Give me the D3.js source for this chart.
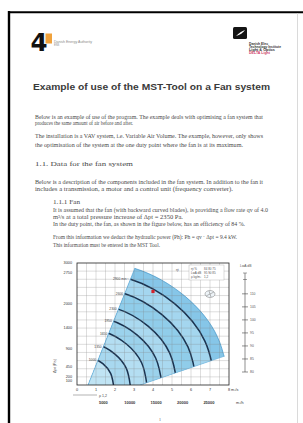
<!DOCTYPE html>
<html><head><meta charset="utf-8">
<script src="https://cdn.jsdelivr.net/npm/d3@7"></script>
<style>html,body{margin:0;padding:0;background:#fff}svg{display:block}</style>
</head><body>
<svg id="c" width="303" height="423"></svg>
<script>
// ---------- data ----------
const flowTicks = [0, 1, 2, 3, 4, 5, 6, 7, 8];                 // m³/s
const flowHourTicks = [5000, 10000, 15000, 20000, 25000];      // m³/h
const pressureTicks = [3000, 2750, 2000, 1400, 900, 450, 200, 100]; // Pa
const soundTicks = [80, 85, 90, 95, 100, 105, 110];            // dB
const speedLabels = ["2900 min⁻¹", "2600", "2300", "1950", "1650", "1350", "1000"];
// fan curves: [flow m³/s, total pressure Pa], outer limit first
const outerLimit = [[8.00, 0], [7.39, 1186], [5.66, 2192], [3.06, 2864], [0, 3100]];
const curve2900 = [[7.28, 0], [6.73, 1079], [5.15, 1995], [2.78, 2606], [0, 2821]];
const curve2600 = [[6.32, 0], [5.84, 937], [4.47, 1732], [2.42, 2263], [0, 2449]];
const curve2300 = [[5.28, 0], [4.88, 783], [3.74, 1447], [2.02, 1890], [0, 2046]];
const curve1950 = [[4.48, 0], [4.14, 664], [3.17, 1228], [1.71, 1604], [0, 1736]];
const curve1650 = [[3.68, 0], [3.40, 546], [2.60, 1008], [1.41, 1317], [0, 1426]];
const curve1350 = [[2.80, 0], [2.59, 415], [1.98, 767], [1.07, 1002], [0, 1085]];
const curve1000 = [[1.92, 0], [1.77, 285], [1.36, 526], [0.73, 687], [0, 744]];
const surgeLine = [[0.58, 0], [3.05, 2877]];
const lowerLimit = [[3.32, 0], [7.79, 713]];
const dutyPoint = [4.0, 2300];
const bandColors = ["#86c6e8", "#a4d6ef", "#90cdea", "#aad9f0", "#9bd2ec", "#b4def2", "#a8d8ef", "#c0e4f4"];

// ---------- page ----------
const svg = d3.select("#c");
svg.append("rect").attr("width", 303).attr("height", 423).attr("fill", "#fff");
svg.append("line").attr("x1", 9).attr("x2", 9).attr("y1", 11).attr("y2", 423).attr("stroke", "#000").attr("stroke-width", 2.4);
svg.append("line").attr("x1", 8).attr("x2", 303).attr("y1", 12.2).attr("y2", 12.2).attr("stroke", "#000").attr("stroke-width", 2);
svg.append("line").attr("x1", 297.5).attr("x2", 297.5).attr("y1", 13).attr("y2", 423).attr("stroke", "#d0d0d0").attr("stroke-width", 0.8);

// logos
svg.append("rect").attr("x", 45.5).attr("y", 33.5).attr("width", 6.5).attr("height", 10).attr("fill", "#f0a23c");
svg.append("text").attr("x", 30.5).attr("y", 50.5).attr("font-family", "DejaVu Sans").attr("font-weight", "bold")
  .attr("font-size", 24.5).attr("fill", "#111").text("4");
svg.append("text").attr("x", 54).attr("y", 42.5).attr("font-family", "Liberation Sans").attr("font-size", 2.6).attr("fill", "#888")
  .attr("textLength", 38).attr("lengthAdjust", "spacingAndGlyphs").text("Danish Energy Authority");
svg.append("text").attr("x", 54).attr("y", 45.5).attr("font-family", "Liberation Sans").attr("font-size", 2.6).attr("fill", "#888").text("ENS");
svg.append("rect").attr("x", 233).attr("y", 27).attr("width", 14).attr("height", 12).attr("rx", 1.5).attr("fill", "#141414");
svg.append("path").attr("d", "M236,36 C239,33 242,31 245,30 C243,33 240,35 236,36 Z").attr("fill", "#fff");
const rl = [["Danish Elec", 44.5, "#333", 19], ["Technology Institute", 47.5, "#333", 32], ["Light & Optics", 50.5, "#333", 26], ["DELTA Light", 54, "#d0406a", 21]];
rl.forEach(([t, yy, c, w]) => svg.append("text").attr("x", 249).attr("y", yy).attr("font-family", "Liberation Sans").attr("font-weight", "bold")
  .attr("font-size", 2.8).attr("fill", c).attr("textLength", w).attr("lengthAdjust", "spacingAndGlyphs").text(t));

// title
svg.append("text").attr("x", 33).attr("y", 90).attr("font-family", "Liberation Sans").attr("font-weight", "bold")
  .attr("font-size", 8.2).attr("fill", "#3a3a3a").attr("textLength", 237).attr("lengthAdjust", "spacingAndGlyphs")
  .text("Example of use of the MST-Tool on a Fan system");

// body text
const bodyLines = [
  [35, 118.5, 228, "Below is an example of use of the program. The example deals with optimising a fan system that"],
  [35, 125, 98, "produces the same amount of air before and after."],
  [35, 138, 228, "The installation is a VAV system, i.e. Variable Air Volume. The example, however, only shows"],
  [35, 146.5, 208, "the optimisation of the system at the one duty point where the fan is at its maximum."],
  [35, 166, 98, "1.1.    Data for the fan system"],
  [35, 184, 228, "Below is a description of the components included in the fan system. In addition to the fan it"],
  [35, 191, 198, "includes a transmission, a motor and a control unit (frequency converter)."],
  [53, 204, 27, "1.1.1   Fan"],
  [53, 212, 215, "It is assumed that the fan (with backward curved blades), is providing a flow rate qv of 4.0"],
  [53, 219, 130, "m³/s at a total pressure increase of Δpt = 2350 Pa."],
  [53, 226, 192, "In the duty point, the fan, as shown in the figure below, has an efficiency of 84 %."],
  [53, 239, 184, "From this information we deduct the hydraulic power (Ph): Ph = qv · Δpt = 9.4 kW."],
  [53, 247, 107, "This information must be entered in the MST Tool."]
];
bodyLines.forEach(([xx, yy, w, t]) => svg.append("text").attr("x", xx).attr("y", yy)
  .attr("font-family", "Liberation Serif").attr("font-size", 5.3).attr("fill", "#4a4a4a")
  .attr("textLength", w).attr("lengthAdjust", "spacingAndGlyphs").text(t));
svg.append("text").attr("x", 159).attr("y", 421).attr("font-family", "Liberation Serif").attr("font-size", 4).attr("fill", "#555").text("1");

// ---------- chart ----------
const x = d3.scaleLinear().domain([0, 8]).range([77, 229]);
const y = d3.scaleLinear().domain([0, 3000]).range([385, 263]);
const yR = d3.scaleLinear().domain([80, 118]).range([372, 273]);
const defs = svg.append("defs");
defs.append("clipPath").attr("id", "plotClip").append("rect")
  .attr("x", x(0)).attr("y", y(3000)).attr("width", x(8) - x(0)).attr("height", y(0) - y(3000));
const surgeExt = d3.scaleLinear().domain([surgeLine[0][1], surgeLine[1][1]]).range([surgeLine[0][0], surgeLine[1][0]]);
const lowExt = d3.scaleLinear().domain([lowerLimit[0][0], lowerLimit[1][0]]).range([lowerLimit[0][1], lowerLimit[1][1]]);
const regionPoly = [surgeLine[0], [surgeExt(3500), 3500], [9.5, 3500], [9.5, lowExt(9.5)], lowerLimit[0], [lowerLimit[0][0], -200], [surgeLine[0][0], -200]]
  .map(([q, p]) => [x(q), y(p)]);
defs.append("clipPath").attr("id", "regionClip").append("path").attr("d", "M" + regionPoly.join("L") + "Z");

const lineGen = d3.line().x(d => x(d[0])).y(d => y(d[1])).curve(d3.curveNatural);
const curves = [outerLimit, curve2900, curve2600, curve2300, curve1950, curve1650, curve1350, curve1000];

const plot = svg.append("g").attr("clip-path", "url(#plotClip)");
const region = plot.append("g").attr("clip-path", "url(#regionClip)");
curves.forEach((c, i) => region.append("path")
  .attr("d", lineGen(c) + "L" + x(0) + "," + y(0) + "Z").attr("fill", bandColors[i]));

// grid
const grid = plot.append("g").attr("stroke", "#7f7f7f").attr("stroke-width", 0.35).attr("opacity", 0.75);
d3.range(0.5, 8, 0.5).forEach(v => grid.append("line").attr("x1", x(v)).attr("x2", x(v)).attr("y1", y(0)).attr("y2", y(3000)));
d3.range(200, 3000, 200).forEach(v => grid.append("line").attr("x1", x(0)).attr("x2", x(8)).attr("y1", y(v)).attr("y2", y(v)));

// region edges
region.append("path").attr("d", lineGen(outerLimit)).attr("fill", "none").attr("stroke", "#3d93c8").attr("stroke-width", 0.7);
plot.append("path").attr("d", d3.line().x(d => x(d[0])).y(d => y(d[1]))(surgeLine)).attr("stroke", "#4b9ccf").attr("stroke-width", 0.6).attr("fill", "none");
plot.append("path").attr("d", d3.line().x(d => x(d[0])).y(d => y(d[1]))(lowerLimit)).attr("stroke", "#6aaed8").attr("stroke-width", 0.5).attr("fill", "none");

// speed curves
curves.slice(1).forEach(c => region.append("path").attr("d", lineGen(c)).attr("fill", "none")
  .attr("stroke", "#1b3350").attr("stroke-width", 1.5));

// speed labels at the left end of each curve
const tmp = svg.append("path").attr("visibility", "hidden");
curves.slice(1).forEach((c, i) => {
  tmp.attr("d", lineGen(c));
  const node = tmp.node(), L = node.getTotalLength();
  for (let s = L; s >= 0; s -= 0.5) {
    const pt = node.getPointAtLength(s);
    if (pt.y >= y(3000) && d3.polygonContains(regionPoly, [pt.x, pt.y])) {
      svg.append("text").attr("x", pt.x - 2).attr("y", pt.y + 1.2).attr("text-anchor", "end")
        .attr("font-family", "Liberation Sans").attr("font-size", 3.3).attr("fill", "#444").text(speedLabels[i]);
      break;
    }
  }
});
tmp.remove();

// duty point
svg.append("rect").attr("x", x(dutyPoint[0]) - 1.6).attr("y", y(dutyPoint[1]) - 1.6).attr("width", 3.2).attr("height", 3.2).attr("fill", "#d3232c");

// legend box and fan symbol
svg.append("rect").attr("x", 189).attr("y", 265).attr("width", 35).attr("height", 15).attr("fill", "#fff").attr("stroke", "#aaa").attr("stroke-width", 0.4);
const legRows = [["ηt %", "84  80  75"], ["LwA dB", "95  90  85"], ["ρ kg/m³", "1,2"]];
legRows.forEach(([a, b], i) => {
  svg.append("text").attr("x", 191).attr("y", 269.5 + i * 4.3).attr("font-family", "Liberation Sans").attr("font-size", 3).attr("fill", "#555").text(a);
  svg.append("text").attr("x", 204).attr("y", 269.5 + i * 4.3).attr("font-family", "Liberation Sans").attr("font-size", 3).attr("fill", "#555").text(b);
});
svg.append("text").attr("x", 176).attr("y", 271).attr("font-family", "Liberation Sans").attr("font-size", 3.3).attr("fill", "#555").text("ηt");
svg.append("ellipse").attr("cx", 210).attr("cy", 294).attr("rx", 5).attr("ry", 3.5).attr("fill", "#eef4f8").attr("stroke", "#777").attr("stroke-width", 0.5);
svg.append("path").attr("d", "M206,296 L214,292 M209,291 L211,297").attr("stroke", "#777").attr("stroke-width", 0.5);

// frame
svg.append("rect").attr("x", x(0)).attr("y", y(3000)).attr("width", x(8) - x(0)).attr("height", y(0) - y(3000))
  .attr("fill", "none").attr("stroke", "#222").attr("stroke-width", 0.8);

// left axis labels
pressureTicks.forEach(v => svg.append("text").attr("x", 72).attr("y", y(v) + 1.3).attr("text-anchor", "end")
  .attr("font-family", "Liberation Sans").attr("font-size", 3.8).attr("fill", "#333").text(v));
svg.append("text").attr("transform", "translate(56,366) rotate(-90)").attr("text-anchor", "middle")
  .attr("font-family", "Liberation Sans").attr("font-size", 3.8).attr("fill", "#444").text("Δpt  (Pa)");

// bottom axis (m³/s)
flowTicks.forEach(v => svg.append("text").attr("x", x(v)).attr("y", 390.5).attr("text-anchor", "middle")
  .attr("font-family", "Liberation Sans").attr("font-size", 3.8).attr("fill", "#333").text(v));
svg.append("text").attr("x", 231).attr("y", 390.5).attr("font-family", "Liberation Sans").attr("font-size", 3.8).attr("fill", "#333").text("m³/s");
// second axis (m³/h)
flowHourTicks.forEach(v => svg.append("text").attr("x", x(v / 3600)).attr("y", 403.5).attr("text-anchor", "middle")
  .attr("font-family", "Liberation Sans").attr("font-weight", "bold").attr("font-size", 4).attr("fill", "#333").text(v));
svg.append("text").attr("x", 236).attr("y", 403.5).attr("font-family", "Liberation Sans").attr("font-size", 3.8).attr("fill", "#333").text("m³/h");
svg.append("line").attr("x1", 73).attr("x2", 97).attr("y1", 395).attr("y2", 395).attr("stroke", "#666").attr("stroke-width", 0.5);
svg.append("text").attr("x", 99).attr("y", 396.5).attr("font-family", "Liberation Sans").attr("font-size", 3.6).attr("fill", "#444").text("ρ 1,2");

// right axis (sound power)
svg.append("line").attr("x1", 245).attr("x2", 245).attr("y1", yR(118)).attr("y2", yR(80)).attr("stroke", "#444").attr("stroke-width", 0.6);
soundTicks.forEach(v => {
  svg.append("line").attr("x1", 242).attr("x2", 248).attr("y1", yR(v)).attr("y2", yR(v)).attr("stroke", "#444").attr("stroke-width", 0.6);
  svg.append("text").attr("x", 250).attr("y", yR(v) + 1.2).attr("font-family", "Liberation Sans").attr("font-size", 3.4).attr("fill", "#555").text(v);
});
[118, 115.5].forEach(v => svg.append("line").attr("x1", 243).attr("x2", 247).attr("y1", yR(v)).attr("y2", yR(v)).attr("stroke", "#444").attr("stroke-width", 0.5));
svg.append("text").attr("x", 240).attr("y", 267).attr("font-family", "Liberation Sans").attr("font-size", 3.4).attr("fill", "#555").text("LwA  dB");
</script>
</body></html>
